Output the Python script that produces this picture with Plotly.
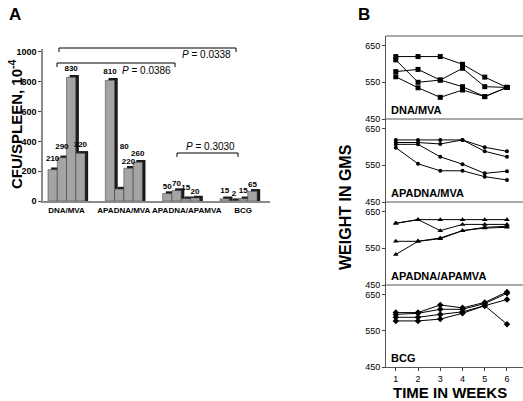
import plotly.graph_objects as go

W, H = 523, 401
FONT = "Liberation Sans, Arial, sans-serif"

# ---------------- Panel A data ----------------
groups = ["DNA/MVA", "APADNA/MVA", "APADNA/APAMVA", "BCG"]
cfu_values = [
    [210, 290, 830, 320],
    [810, 80, 220, 260],
    [50, 70, 15, 20],
    [15, 2, 15, 65],
]
y_ticks_a = [0, 200, 400, 600, 800, 1000]

# ---------------- Panel B data ----------------
weeks = [1, 2, 3, 4, 5, 6]
dna_mva = [
    [620, 620, 620, 599, 564, 536],
    [611, 550, 556, 588, 538, 536],
    [579, 585, 556, 538, 511, 536],
    [565, 535, 509, 529, 511, 536],
]
apadna_mva = [
    [619, 619, 619, 619, 599, 588],
    [612, 612, 608, 619, 588, 573],
    [607, 607, 573, 553, 528, 534],
    [598, 554, 535, 535, 519, 510],
]
apadna_apamva = [
    [618, 628, 628, 628, 628, 628],
    [618, 628, 598, 615, 615, 615],
    [569, 569, 578, 598, 607, 610],
    [533, 569, 576, 598, 605, 607],
]
bcg = [
    [600, 600, 621, 613, 628, 657],
    [595, 598, 609, 609, 625, 653],
    [587, 587, 595, 602, 619, 636],
    [577, 577, 582, 598, 619, 568],
]
weight_ticks = [450, 550, 650]
panels_b = [("DNA/MVA", dna_mva, "square"),
            ("APADNA/MVA", apadna_mva, "circle"),
            ("APADNA/APAMVA", apadna_apamva, "triangle-up"),
            ("BCG", bcg, "diamond")]


def px(x):
    return x / W


def py(y):
    return 1 - y / H


fig = go.Figure()

# ---- Panel A bars (pseudo 3D) ----
group_step = 6.2
xs, vals = [], []
for gi, gv in enumerate(cfu_values):
    for bi, v in enumerate(gv):
        xs.append(gi * group_step + bi + 0.5)
        vals.append(v)

# label placement tweaks (axis units) to follow the original's label spots
label_lift = [30, 30, 10, 10, 10, 240, 0, 10, 0, 0, 30, 0, 10, 0, 10, 0]
label_shift = [0, 0, 0, 0, 0, 0.55, 0, 0, 0, 0, 0, 0, 0, 0, 0, 0]

fig.add_trace(go.Bar(
    x=[x + 0.34 for x in xs], y=[v + 15 for v in vals], width=1.0,
    marker=dict(color="#1a1a1a", line=dict(width=0)),
    xaxis="x", yaxis="y", showlegend=False, hoverinfo="skip"))
fig.add_trace(go.Bar(
    x=xs, y=vals, width=1.0,
    marker=dict(color="#a4a4a4", line=dict(color="#4a4a4a", width=0.6)),
    xaxis="x", yaxis="y", showlegend=False))
fig.add_trace(go.Scatter(
    x=[x + s for x, s in zip(xs, label_shift)],
    y=[v + 16 + l for v, l in zip(vals, label_lift)], mode="text",
    text=[str(v) for v in vals], textposition="top center",
    textfont=dict(family=FONT, size=8, color="black", weight="bold"),
    xaxis="x", yaxis="y", showlegend=False, hoverinfo="skip"))

group_offsets = [2.0, 2.0, 2.6, 2.5]
group_centers = [gi * group_step + off for gi, off in enumerate(group_offsets)]

# ---- Panel B lines ----
yaxes = ["y2", "y3", "y4", "y5"]
for (name, series, sym), ya in zip(panels_b, yaxes):
    for s in series:
        fig.add_trace(go.Scatter(
            x=weeks, y=s, mode="lines+markers",
            line=dict(color="black", width=1),
            marker=dict(symbol=sym, size=5 if sym != "circle" else 4, color="black"),
            xaxis="x2", yaxis=ya, showlegend=False))

# panel B domains (pixel rows)
rows = [(36, 119), (119, 202), (202, 285), (285, 367)]

layout = dict(
    width=W, height=H, margin=dict(l=0, r=0, t=0, b=0, autoexpand=False),
    paper_bgcolor="white", plot_bgcolor="white",
    font=dict(family=FONT, color="black"),
    barmode="overlay",
    xaxis=dict(domain=[px(43), px(270)], range=[-0.54, 24.0],
               tickvals=group_centers, ticktext=groups, tickangle=0,
               tickfont=dict(size=8, weight="bold"), ticks="",
               showline=True, linecolor="#8a8a8a", linewidth=2,
               showgrid=False, zeroline=False, anchor="y", automargin=False),
    yaxis=dict(domain=[py(201), py(49)], range=[0, 1020],
               tickvals=y_ticks_a, ticks="outside", ticklen=3,
               tickfont=dict(size=9, weight="bold"),
               showline=True, linecolor="#8a8a8a", linewidth=1.5,
               showgrid=False, zeroline=False, anchor="x", automargin=False),
    xaxis2=dict(domain=[px(386), 1.0], range=[0.56, 6.72],
                tickvals=weeks, ticks="outside", ticklen=3,
                tickfont=dict(size=9), showline=True, linecolor="#555",
                linewidth=1, showgrid=False, zeroline=False, anchor="y5",
                automargin=False),
)
for i, (ya, (top, bot)) in enumerate(zip(yaxes, rows)):
    layout["yaxis" + ya[1:]] = dict(
        domain=[py(bot), py(top)], range=[450, 676], tickvals=weight_ticks,
        ticks="outside", ticklen=3, tickfont=dict(size=9),
        showline=True, linecolor="#555", linewidth=1,
        showgrid=False, zeroline=False, anchor="x2", automargin=False)

fig.update_layout(**layout)

shapes = []
# horizontal frame / separators in panel B
for yline in [36, 119, 202, 285]:
    shapes.append(dict(type="line", xref="paper", yref="paper",
                       x0=px(386), x1=1.0, y0=py(yline), y1=py(yline),
                       line=dict(color="#555", width=1)))
# P-value brackets in panel A
brackets = [(59, 236, 48, 52), (57, 175, 63, 67), (177, 238, 153, 157)]
for x0, x1, yb, yt in brackets:
    shapes.append(dict(type="path", xref="paper", yref="paper",
                       path=f"M {px(x0)},{py(yt)} L {px(x0)},{py(yb)} L {px(x1)},{py(yb)} L {px(x1)},{py(yt)}",
                       line=dict(color="black", width=1)))
fig.update_layout(shapes=shapes)

ann = []
ann.append(dict(text="<b>A</b>", x=px(7), y=py(3), xref="paper", yref="paper",
                xanchor="left", yanchor="top", showarrow=False,
                font=dict(size=17)))
ann.append(dict(text="<b>B</b>", x=px(356), y=py(3), xref="paper", yref="paper",
                xanchor="left", yanchor="top", showarrow=False,
                font=dict(size=17)))
ann.append(dict(text="<b>CFU/SPLEEN, 10<sup>-4</sup></b>", x=px(15), y=py(124),
                xref="paper", yref="paper", textangle=-90, showarrow=False,
                xanchor="center", yanchor="middle", font=dict(size=15)))
ann.append(dict(text="<b>WEIGHT IN GMS</b>", x=px(345), y=py(207),
                xref="paper", yref="paper", textangle=-90, showarrow=False,
                xanchor="center", yanchor="middle", font=dict(size=16)))
ann.append(dict(text="<b>TIME IN WEEKS</b>", x=px(450), y=py(392),
                xref="paper", yref="paper", showarrow=False,
                xanchor="center", yanchor="middle", font=dict(size=15)))
for (name, _, _), (top, bot) in zip(panels_b, rows):
    ann.append(dict(text=f"<b>{name}</b>", x=px(389), y=py(bot - 1),
                    xref="paper", yref="paper", showarrow=False,
                    xanchor="left", yanchor="bottom", font=dict(size=11)))
p_labels = [("<i>P</i> = 0.0338", 206, 54), ("<i>P</i> = 0.0386", 146, 70),
            ("<i>P</i> = 0.3030", 210, 146)]
for t, xc, yc in p_labels:
    ann.append(dict(text=t, x=px(xc), y=py(yc), xref="paper", yref="paper",
                    showarrow=False, xanchor="center", yanchor="middle",
                    font=dict(size=10)))
fig.update_layout(annotations=ann)

fig.write_html("out.html", config={"displayModeBar": False},
               post_script="document.body.style.margin='0';document.body.style.overflow='hidden';")
